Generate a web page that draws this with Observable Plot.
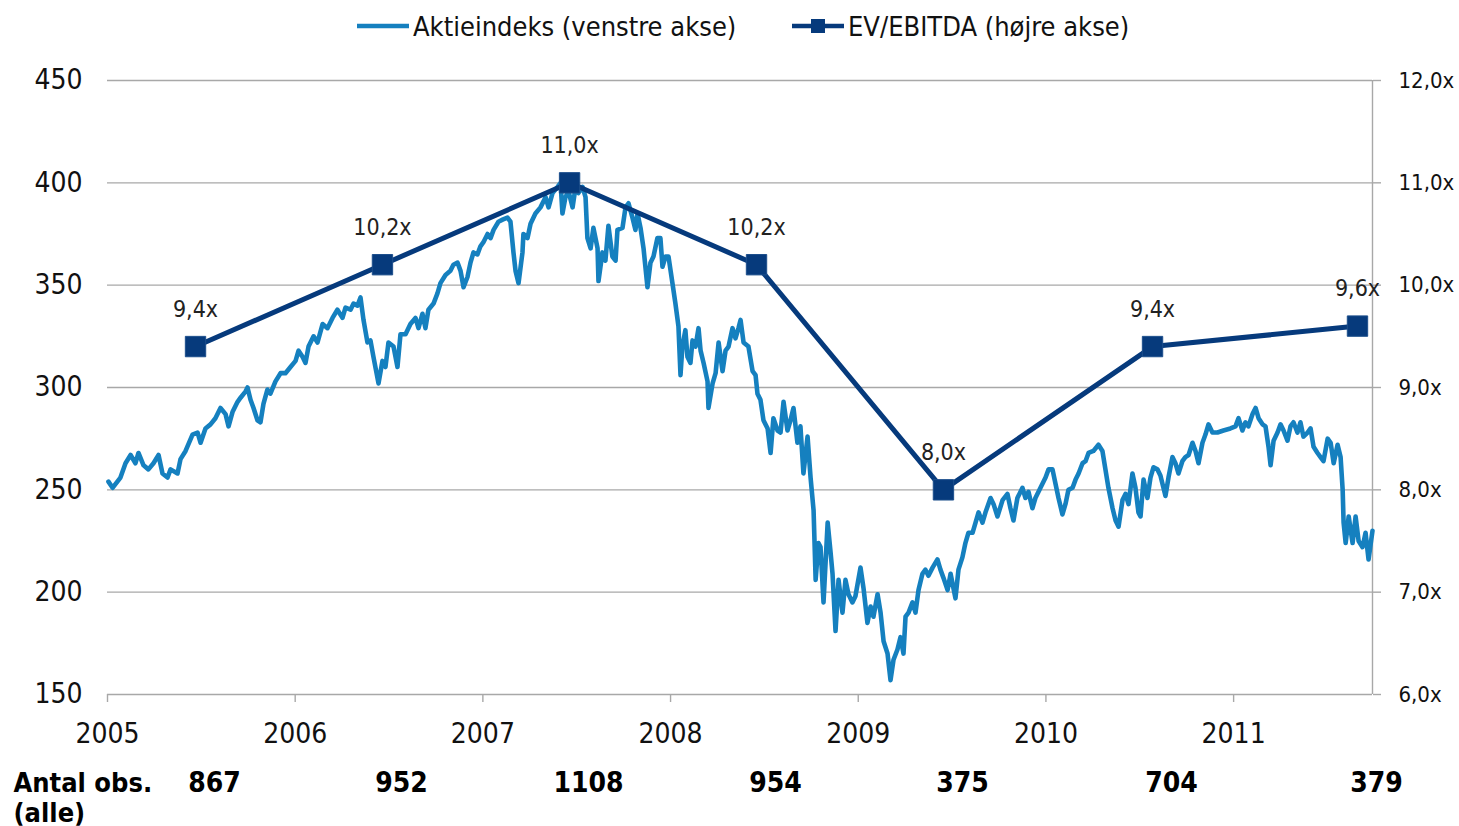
<!DOCTYPE html>
<html><head><meta charset="utf-8">
<script src="https://cdn.jsdelivr.net/npm/d3@7"></script>
<script src="https://cdn.jsdelivr.net/npm/@observablehq/plot@0.6"></script>
<style>
body{margin:0;background:#fff;font-family:"DejaVu Sans Condensed","DejaVu Sans",sans-serif;}
#legend{position:relative;height:52px;width:1459px;}
.item{position:absolute;top:0;height:52px;display:flex;align-items:center;font-size:27px;color:#111;white-space:nowrap;}
.item svg{margin-right:3px;}
</style></head><body>
<div id="legend"></div>
<div id="chart"></div>
<script>
// ---- data ----
const seriesNames = ["Aktieindeks (venstre akse)", "EV/EBITDA (højre akse)"];
const indexYears = [
2005.005,2005.027,2005.069,2005.096,2005.123,2005.149,2005.165,2005.192,2005.218,2005.245,2005.272,2005.293,2005.320,2005.336,2005.373,2005.389,2005.416,2005.453,2005.480,2005.496,2005.522,2005.549,2005.575,2005.602,2005.629,2005.645,2005.666,2005.693,2005.709,2005.735,2005.746,2005.762,2005.778,2005.799,2005.815,2005.831,2005.852,2005.868,2005.895,2005.922,2005.948,2005.975,
2006.002,2006.018,2006.039,2006.055,2006.071,2006.098,2006.119,2006.146,2006.172,2006.199,2006.225,2006.252,2006.268,2006.295,2006.311,2006.332,2006.348,2006.364,2006.385,2006.401,2006.417,2006.444,2006.465,2006.481,2006.497,2006.524,2006.545,2006.561,2006.588,2006.614,2006.641,2006.657,2006.678,2006.694,2006.710,2006.737,2006.758,2006.774,2006.801,2006.827,2006.843,2006.865,2006.881,2006.897,2006.918,2006.934,2006.950,2006.971,2006.987,
2007.003,2007.025,2007.041,2007.057,2007.083,2007.105,2007.131,2007.147,2007.163,2007.174,2007.190,2007.211,2007.216,2007.238,2007.254,2007.280,2007.307,2007.334,2007.350,2007.371,2007.398,2007.414,2007.424,2007.440,2007.456,2007.478,2007.494,2007.509,2007.531,2007.547,2007.557,2007.574,2007.589,2007.611,2007.616,2007.637,2007.653,2007.669,2007.690,2007.707,2007.717,2007.744,2007.760,2007.776,2007.797,2007.813,2007.824,2007.840,2007.856,2007.877,2007.893,2007.909,2007.930,2007.946,2007.957,2007.973,2007.989,
2008.010,2008.026,2008.042,2008.053,2008.063,2008.079,2008.090,2008.106,2008.117,2008.133,2008.149,2008.160,2008.176,2008.197,2008.202,2008.224,2008.240,2008.256,2008.277,2008.293,2008.309,2008.330,2008.346,2008.362,2008.373,2008.389,2008.415,2008.437,2008.453,2008.463,2008.479,2008.495,2008.517,2008.533,2008.548,2008.570,2008.586,2008.602,2008.623,2008.639,2008.655,2008.676,2008.692,2008.708,2008.730,2008.746,2008.762,2008.773,2008.788,2008.799,2008.815,2008.837,2008.853,2008.863,2008.879,2008.895,2008.916,2008.932,2008.948,2008.969,2008.985,
2009.012,2009.028,2009.049,2009.066,2009.081,2009.103,2009.119,2009.135,2009.156,2009.172,2009.188,2009.209,2009.225,2009.241,2009.252,2009.268,2009.289,2009.305,2009.321,2009.342,2009.358,2009.374,2009.396,2009.422,2009.438,2009.454,2009.476,2009.492,2009.518,2009.534,2009.555,2009.571,2009.587,2009.609,2009.625,2009.641,2009.662,2009.678,2009.705,2009.721,2009.742,2009.769,2009.795,2009.811,2009.827,2009.848,2009.875,2009.891,2009.907,2009.928,2009.944,2009.971,2009.998,
2010.014,2010.035,2010.051,2010.067,2010.088,2010.104,2010.120,2010.142,2010.158,2010.174,2010.195,2010.211,2010.227,2010.253,2010.280,2010.301,2010.317,2010.333,2010.355,2010.371,2010.387,2010.408,2010.424,2010.440,2010.461,2010.477,2010.493,2010.504,2010.520,2010.541,2010.557,2010.573,2010.594,2010.610,2010.637,2010.653,2010.674,2010.690,2010.706,2010.727,2010.743,2010.760,2010.781,2010.797,2010.813,2010.834,2010.850,2010.866,2010.887,2010.914,2010.946,2010.983,
2011.010,2011.026,2011.047,2011.063,2011.079,2011.101,2011.117,2011.133,2011.154,2011.170,2011.186,2011.197,2011.213,2011.234,2011.250,2011.266,2011.287,2011.303,2011.319,2011.340,2011.356,2011.372,2011.394,2011.410,2011.426,2011.447,2011.463,2011.479,2011.501,2011.517,2011.533,2011.554,2011.570,2011.581,2011.586,2011.597,2011.613,2011.634,2011.650,2011.666,2011.687,2011.703,2011.719,2011.740
];
const indexValues = [
254,251,256,263,267,263,268,262,260,263,267,258,256,260,258,265,269,277,278,273,280,282,285,290,287,281,288,293,295,298,300,294,290,284,283,292,299,297,303,307,307,310,
313,318,315,312,320,325,322,331,329,334,338,334,339,338,341,340,344,333,322,323,315,302,313,310,322,320,310,326,326,331,334,329,336,329,338,341,346,351,355,357,360,361,357,349,354,361,366,365,369,
371,375,373,377,381,382,383,381,366,357,351,366,375,373,380,385,388,393,388,395,398,400,385,393,396,388,398,395,398,393,373,368,378,368,352,366,362,379,364,362,377,378,388,390,383,377,385,378,368,349,361,364,373,373,359,364,364,
351,341,330,306,320,328,315,312,323,320,329,318,312,303,290,302,307,322,308,318,320,329,324,329,333,322,320,308,306,297,294,284,280,268,285,279,278,293,279,284,290,273,281,258,276,256,240,206,224,222,195,234,219,209,181,206,190,206,199,195,198,
212,202,185,193,188,199,190,176,170,157,167,172,178,170,188,190,195,190,201,209,211,208,212,216,211,207,201,209,197,211,217,224,229,229,234,239,234,239,246,243,237,245,248,241,235,246,251,246,249,241,246,251,256,
260,260,253,246,238,243,250,251,255,258,263,264,268,269,272,269,260,251,241,235,232,245,248,243,258,251,239,237,255,246,256,261,260,257,247,256,266,263,258,264,266,267,273,269,263,273,277,282,278,278,279,280,
281,285,279,283,281,287,290,285,282,281,271,262,274,278,282,279,274,281,283,278,283,276,278,280,271,268,266,264,275,273,263,272,266,250,234,224,237,224,237,225,222,229,216,230
];
const evYears = [2005.469, 2006.465, 2007.462, 2008.458, 2009.454, 2010.568, 2011.660];
const evValues = [9.4, 10.2, 11.0, 10.2, 8.0, 9.4, 9.6];
const obsCounts = [867, 952, 1108, 954, 375, 704, 379];
const obsTitle = ["Antal obs.", "(alle)"];
const leftTicks = [150, 200, 250, 300, 350, 400, 450];
const rightTicks = [6, 7, 8, 9, 10, 11, 12];
const yearTicks = [2005, 2006, 2007, 2008, 2009, 2010, 2011];
const xDomain = [2005, 2011.74];

// ---- styling ----
const blue = "#1580bf", navy = "#063a7c", grid = "#a8a8a8";
const font = "'DejaVu Sans Condensed','DejaVu Sans',sans-serif";

// right axis (EV/EBITDA) mapped onto the left scale
const L0 = leftTicks[0], L1 = leftTicks[leftTicks.length - 1];
const R0 = rightTicks[0], R1 = rightTicks[rightTicks.length - 1];
const toLeft = v => L0 + (v - R0) * (L1 - L0) / (R1 - R0);
const fromLeft = v => R0 + (v - L0) * (R1 - R0) / (L1 - L0);
const fmtX = v => v.toFixed(1).replace(".", ",") + "x";

const indexData = indexYears.map((x, i) => ({x, v: indexValues[i]}));
const evData = evYears.map((x, i) => ({x, ev: evValues[i], n: obsCounts[i]}));

// ---- legend ----
const legend = document.getElementById("legend");
legend.innerHTML = `
<div class="item" style="left:356px"><svg width="54" height="20"><line x1="1" x2="53" y1="10" y2="10" stroke="${blue}" stroke-width="4.5"/></svg>${seriesNames[0]}</div>
<div class="item" style="left:791px"><svg width="54" height="20"><line x1="1" x2="53" y1="10" y2="10" stroke="${navy}" stroke-width="4.5"/><rect x="20" y="3" width="14" height="14" fill="${navy}"/></svg>${seriesNames[1]}</div>`;

// ---- chart ----
const chart = Plot.plot({
  width: 1459,
  height: 774,
  marginTop: 28,
  marginRight: 87,
  marginBottom: 132,
  marginLeft: 107,
  style: {fontFamily: font, color: "#111", background: "#fff", overflow: "visible"},
  x: {domain: xDomain, label: null},
  y: {domain: [L0, L1], label: null},
  marks: [
    Plot.ruleY(leftTicks, {stroke: grid, strokeWidth: 1.4}),
    Plot.ruleX([xDomain[1]], {y1: L0, y2: L1, stroke: grid, strokeWidth: 1.4}),
    Plot.axisX({ticks: yearTicks, tickFormat: d => String(d), tickSize: 8, tickPadding: 21, fontSize: 28, stroke: grid, strokeWidth: 1.4, label: null}),
    Plot.axisY({anchor: "left", ticks: leftTicks, tickSize: 0, tickPadding: 25, fontSize: 28, label: null}),
    Plot.axisY({anchor: "right", ticks: leftTicks, tickSize: 8, tickPadding: 18, fontSize: 22, stroke: grid, strokeWidth: 1.4,
      tickFormat: d => fmtX(fromLeft(d)), label: null}),
    Plot.line(indexData, {x: "x", y: "v", stroke: blue, strokeWidth: 4.6, strokeLinejoin: "round", strokeLinecap: "round"}),
    Plot.line(evData, {x: "x", y: d => toLeft(d.ev), stroke: navy, strokeWidth: 5}),
    Plot.dot(evData, {x: "x", y: d => toLeft(d.ev), symbol: "square", r: 11.5, fill: navy, stroke: "#1d4f8c", strokeWidth: 1}),
    Plot.text(evData, {x: "x", y: d => toLeft(d.ev), text: d => fmtX(d.ev), dy: -37, fontSize: 23, fill: "#222"}),
    Plot.text(evData, {x: "x", text: d => String(d.n), frameAnchor: "bottom", dy: 97, dx: 19, fontSize: 28, fontWeight: "bold", fill: "#000"}),
    Plot.text([obsTitle[0]], {frameAnchor: "bottom-left", dx: -94, dy: 97, textAnchor: "start", fontSize: 27, fontWeight: "bold", fill: "#000"}),
    Plot.text([obsTitle[1]], {frameAnchor: "bottom-left", dx: -94, dy: 127, textAnchor: "start", fontSize: 27, fontWeight: "bold", fill: "#000"})
  ]
});
document.getElementById("chart").appendChild(chart);
</script>
</body></html>
